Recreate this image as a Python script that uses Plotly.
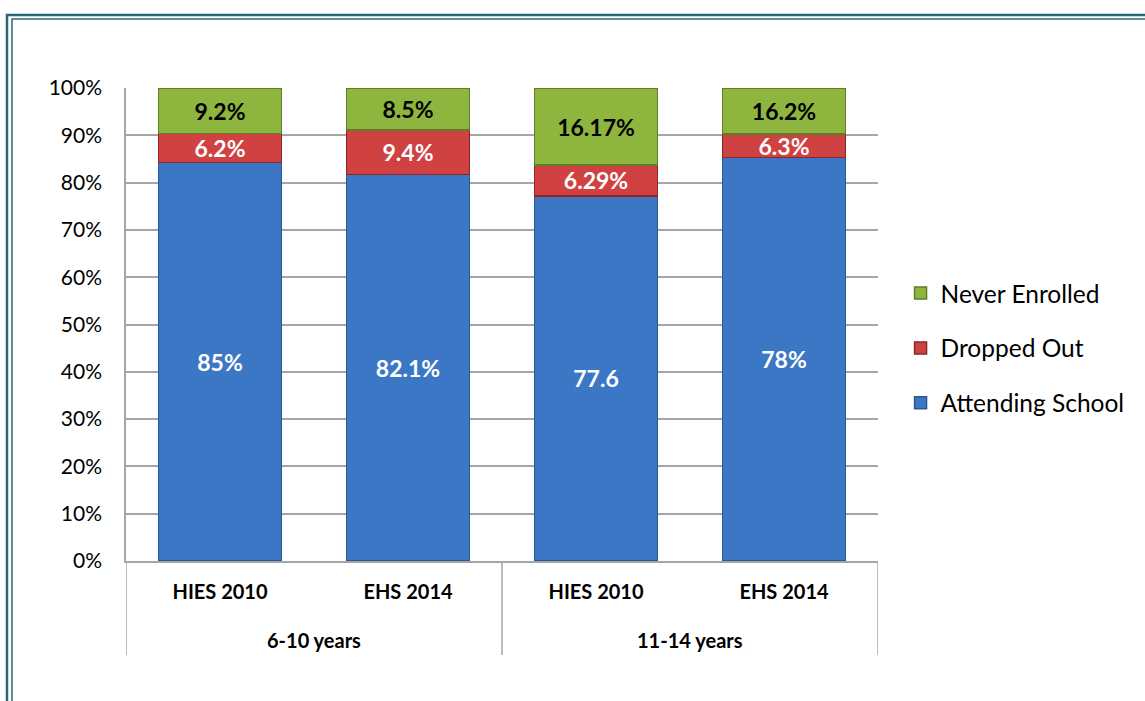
import plotly.graph_objects as go

# categories
age_groups = ["6-10 years", "11-14 years"]
surveys = ["HIES 2010", "EHS 2014", "HIES 2010", "EHS 2014"]

# segment heights as drawn (share of bar, %)
attending = [84.3, 81.7, 77.2, 85.3]
dropped = [6.1, 9.4, 6.5, 5.0]
never = [9.6, 8.9, 16.3, 9.7]

# labels printed on the bars
attending_lbl = ["85%", "82.1%", "77.6", "78%"]
dropped_lbl = ["6.2%", "9.4%", "6.29%", "6.3%"]
never_lbl = ["9.2%", "8.5%", "16.17%", "16.2%"]

FONT = "Lato"
GRID = "#A6A6A6"
pos = list(range(len(surveys)))

series = [
    ("Attending School", attending, attending_lbl, "#3C77C6", "#2A578F", "white"),
    ("Dropped Out", dropped, dropped_lbl, "#D04242", "#8E2525", "white"),
    ("Never Enrolled", never, never_lbl, "#8EB63F", "#5F7D2A", "black"),
]

fig = go.Figure()
for i, (name, vals, lbls, col, edge, tcol) in enumerate(series):
    fig.add_trace(go.Bar(
        x=pos, y=vals, name=name, text=lbls,
        textposition="inside", insidetextanchor="middle",
        constraintext="none", textangle=0,
        textfont=dict(family=FONT, size=23, color=tcol, weight="bold"),
        marker=dict(color=col, line=dict(color=edge, width=1.5)),
        legendgroup=f"g{i}",
        legendrank=len(series) - i,
        width=0.655,
        hoverinfo="skip",
    ))

fig.update_layout(
    barmode="stack",
    width=1145, height=701,
    margin=dict(l=126, r=267, t=88, b=140),
    paper_bgcolor="white", plot_bgcolor="white",
    font=dict(family=FONT, size=20, color="black"),
    showlegend=True,
    legend=dict(
        x=1.03, y=0.45, xanchor="left", yanchor="middle",
        traceorder="grouped", tracegroupgap=20,
        font=dict(family=FONT, size=24.5, color="black"),
        itemwidth=30,
    ),
)

fig.update_yaxes(
    range=[0, 100], dtick=10, ticksuffix="%",
    showgrid=True, gridcolor=GRID, gridwidth=1.5,
    showline=True, linecolor=GRID, linewidth=1.5,
    ticks="", ticklabelstandoff=18,
    tickfont=dict(family=FONT, size=21),
    zeroline=False,
)
fig.update_xaxes(
    range=[-0.5, len(surveys) - 0.5],
    tickvals=pos, ticktext=surveys,
    showline=True, linecolor=GRID, linewidth=1.5,
    showgrid=False, ticks="", ticklabelstandoff=12,
    tickfont=dict(family=FONT, size=20, weight="bold"),
)

# group labels and dividers under the axis
for g, name in enumerate(age_groups):
    fig.add_annotation(x=2 * g + 0.5, xref="x", y=-79 / 473, yref="paper",
                       yanchor="middle", text=f"<b>{name}</b>", showarrow=False,
                       font=dict(family=FONT, size=20, color="black"))
for xd in [-0.5, 1.5, 3.5]:
    fig.add_shape(type="line", xref="x", yref="paper", x0=xd, x1=xd,
                  y0=0, y1=-94 / 473, line=dict(color=GRID, width=1.5))

# double frame around the chart
fig.add_shape(type="rect", xref="paper", yref="paper",
              x0=(7 - 126) / 752, x1=(1160 - 126) / 752,
              y0=(561 - 720) / 473, y1=(561 - 15) / 473,
              line=dict(color="#2F6475", width=2.5), layer="below")
fig.add_shape(type="rect", xref="paper", yref="paper",
              x0=(12 - 126) / 752, x1=(1155 - 126) / 752,
              y0=(561 - 715) / 473, y1=(561 - 19) / 473,
              line=dict(color="#2F6475", width=1.5), layer="below")

fig.write_html("out.html", config={"displayModeBar": False},
               post_script="document.body.style.margin='0';")
